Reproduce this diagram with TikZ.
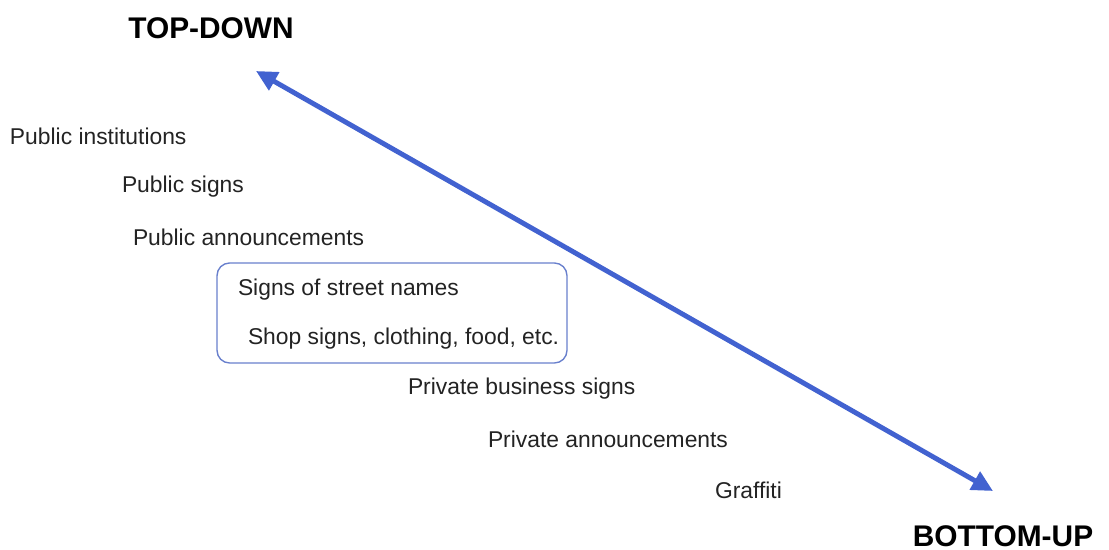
\documentclass[tikz,border=0pt]{standalone}
\usepackage{fontspec}
\setmainfont{Liberation Sans}
\usepackage{tikz}
\usetikzlibrary{positioning,arrows.meta}

\definecolor{arrowblue}{RGB}{66,98,208}
\definecolor{boxblue}{RGB}{105,128,205}
\definecolor{txtgray}{RGB}{35,35,35}

\begin{document}
\begin{tikzpicture}[x=0.02cm,y=-0.02cm,every node/.style={outer sep=0pt,text=txtgray}]

\tikzstyle{item}=[anchor=west,inner sep=0pt,font=\fontsize{13}{15}\selectfont]
\tikzstyle{pole}=[inner sep=0pt,font=\fontsize{17}{20}\selectfont\bfseries,text=black]
\tikzstyle{axisline}=[line width=2.8pt,draw=arrowblue,{Triangle[length=0.42cm,width=0.4cm]}-{Triangle[length=0.42cm,width=0.4cm]}]

\useasboundingbox (0,0) rectangle (1109,550);

% ends of the scale
\node (topdown) [pole] at (211,28) {TOP-DOWN};
\node (bottomup) [pole] at (1003,536) {BOTTOM-UP};
\coordinate (tdtip) at (256,71);
\coordinate (butip) at (993,491);
\draw [axisline] (tdtip) -- (butip);

% the grouped signs
\node (box) [draw=boxblue,thick,rounded corners=0.25cm,minimum width=7cm,minimum height=2cm] at (392,313) {};

\node (inst) [item] at (10,136) {Public institutions};
\node (psigns) [item] at (122,187) {Public signs};
\node (pann) [item] at (133,237) {Public announcements};
\node (street) [item] at (238,290) {Signs of street names};
\node (shop) [item] at (248,339) {Shop signs, clothing, food, etc.};
\node (business) [item] at (408,389) {Private business signs};
\node (prann) [item] at (488,439) {Private announcements};
\node (graffiti) [item] at (715,490) {Graffiti};

\end{tikzpicture}
\end{document}
